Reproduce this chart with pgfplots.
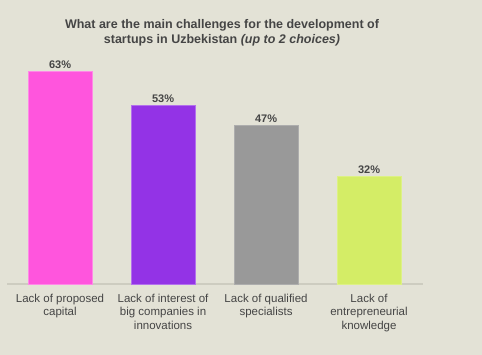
\documentclass[border=0pt]{standalone}
\usepackage{pgfplots}
\pgfplotsset{compat=1.18}
\usepackage{fontspec}
\setmainfont{Liberation Sans}
\definecolor{bg}{HTML}{E3E2D6}
\definecolor{txt}{HTML}{454545}
\definecolor{cA}{HTML}{FF55DD}
\definecolor{cB}{HTML}{9333E6}
\definecolor{cC}{HTML}{999999}
\definecolor{cD}{HTML}{D4ED66}
\definecolor{base}{HTML}{CDCCC0}
\begin{document}
\begin{tikzpicture}
\fill[bg] (0pt,0pt) rectangle (482pt,355pt);
\useasboundingbox (0pt,0pt) rectangle (482pt,355pt);
\node[text=txt,font=\fontsize{12.5}{14.5}\selectfont\bfseries,align=center] at (222pt,322pt)
  {What are the main challenges for the development of\\startups in Uzbekistan \textit{(up to 2 choices)}};
\begin{axis}[
  at={(7pt,71pt)}, anchor=south west,
  scale only axis, width=416pt, height=236.6pt,
  xmin=-0.515, xmax=3.524, ymin=0, ymax=70,
  hide y axis,
  axis x line*=bottom,
  x axis line style={base, line width=1.5pt},
  xtick={0,1,2,3}, major tick length=0pt,
  xticklabels={{Lack of proposed\\capital},{Lack of interest of\\big companies in\\innovations},{Lack of qualified\\specialists},{Lack of\\entrepreneurial\\knowledge}},
  xticklabel style={text=txt, font=\fontsize{11.5}{13.5}\selectfont, align=center, anchor=north, yshift=-6.5pt},
  ybar, bar width=64pt, bar shift=0pt,
  /pgf/number format/assume math mode=true,
  nodes near coords={\pgfmathprintnumber{\pgfplotspointmeta}\%},
  every node near coord/.append style={text=txt, font=\fontsize{11}{13}\selectfont\bfseries, yshift=-1pt},
  clip=false,
]
\addplot[fill=cA, draw=cA!70!white] coordinates {(0,63)};
\addplot[fill=cB, draw=cB!70!white] coordinates {(1,53)};
\addplot[fill=cC, draw=cC!80!white] coordinates {(2,47)};
\addplot[fill=cD, draw=cD!80!white] coordinates {(3,32)};
\end{axis}
\end{tikzpicture}
\end{document}
